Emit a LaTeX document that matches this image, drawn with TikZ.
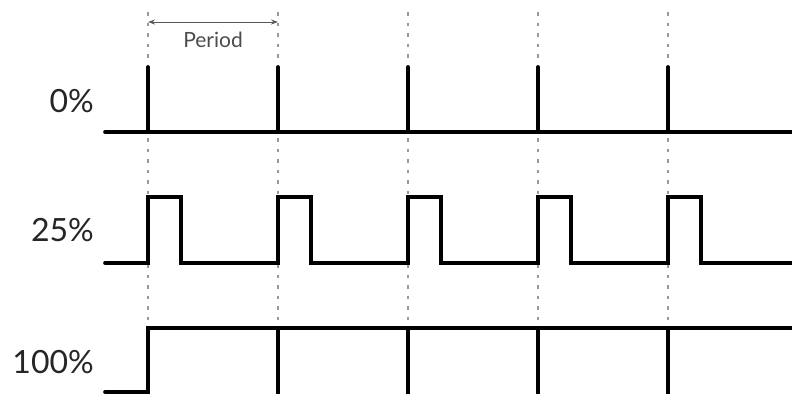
\documentclass[tikz,border=0pt]{standalone}
\usepackage{fontspec}
\setmainfont{Lato}
\usetikzlibrary{arrows.meta}

\begin{document}
\begin{tikzpicture}[
    x=1pt, y=-1pt,
    signal/.style={line width=3.6pt, line join=miter, line cap=round},
    guide/.style={black!40, line width=1.2pt, dash pattern=on 3.5pt off 7pt},
    duty/.style={anchor=east, inner sep=0pt, text=black!85, font=\fontsize{32}{34}\selectfont},
    span/.style={{Stealth[length=7pt,width=5pt]}-{Stealth[length=7pt,width=5pt]}, black!65, line width=0.9pt}
]

\useasboundingbox (0,0) rectangle (792,394);

% Guides
\foreach \x in {148,278,408,538,668}
    \draw [guide] (\x,12) -- (\x,320);

% Period
\coordinate (start) at (148,22);
\coordinate (stop) at (278,22);
\draw [span] (start) -- (stop);
\node (period) [text=black!70, font=\fontsize{21}{23}\selectfont] at (213,40) {Period};

% Labels
\node (zero) [duty] at (94,101) {0\%};
\node (quarter) [duty] at (94,230) {25\%};
\node (full) [duty] at (94,362) {100\%};

% 0%
\draw [signal] (105,132) -- (792,132);
\foreach \x in {148,278,408,538,668}
    \draw [signal] (\x,67) -- (\x,132);

% 25%
\draw [signal] (105,263)
    \foreach \x in {148,278,408,538,668} {
        -- (\x,263) -- (\x,197) -- (\x+33,197) -- (\x+33,263)
    } -- (792,263);

% 100%
\draw [signal] (105,392) -- (148,392) -- (148,328) -- (792,328);
\foreach \x in {278,408,538,668}
    \draw [signal, line cap=butt] (\x,328) -- (\x,394);

\end{tikzpicture}
\end{document}
